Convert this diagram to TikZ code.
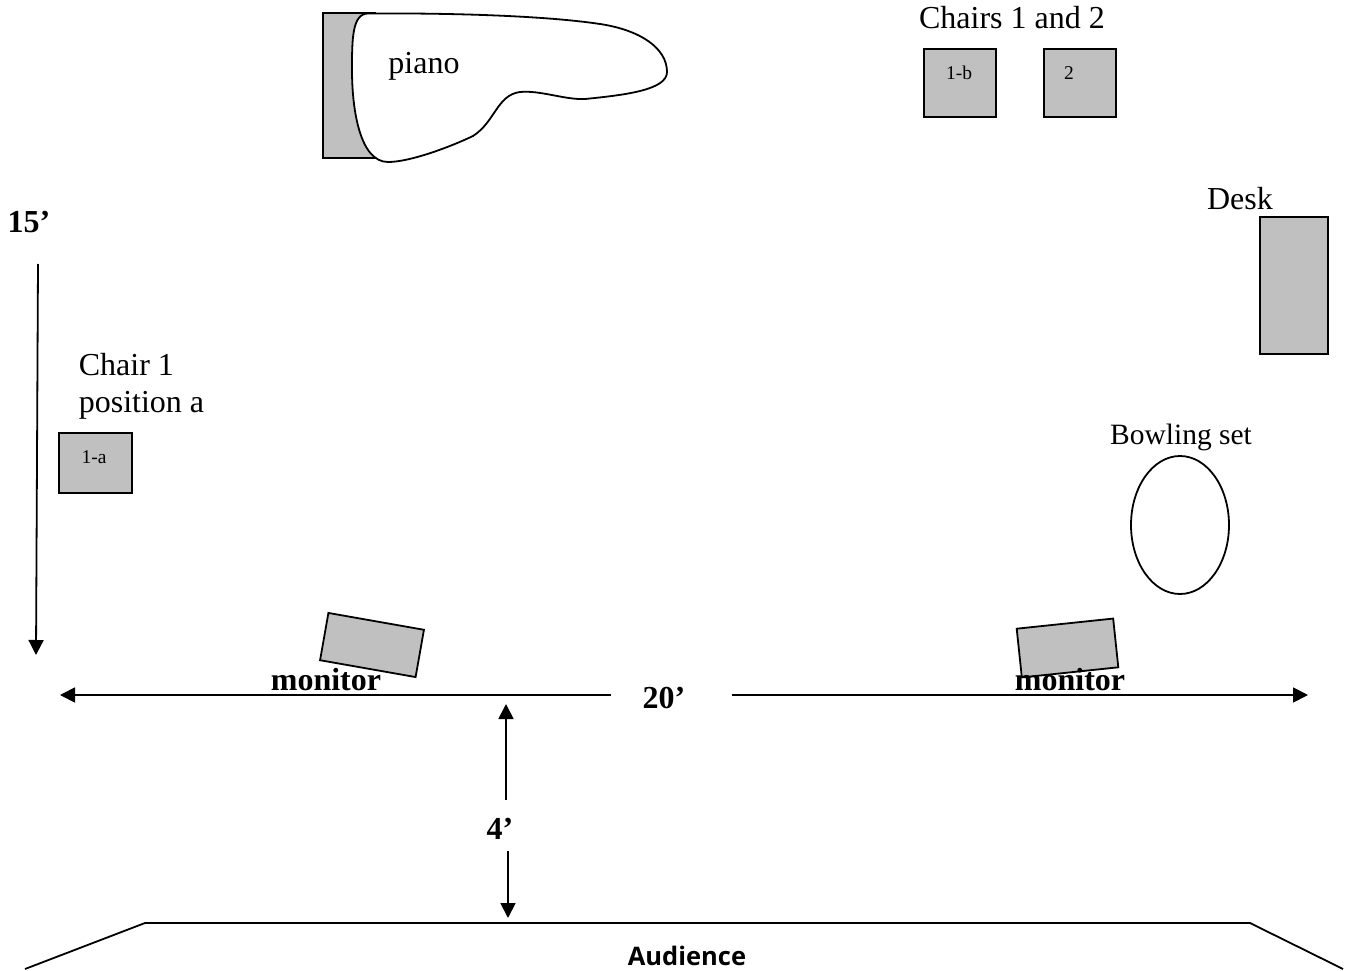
\documentclass[tikz,border=0pt]{standalone}
\usepackage{fontspec}
\setmainfont{Liberation Serif}
\newfontfamily\audfont{Open Sans}
\usetikzlibrary{arrows.meta, shapes.geometric}
\definecolor{boxgray}{RGB}{192,192,192}
\tikzset{
  every node/.style={inner sep=0pt, outer sep=0pt},
  box/.style={draw, fill=boxgray, line width=1.8pt},
  lab/.style={font=\fontsize{32}{37}\selectfont, align=left},
  dim/.style={font=\fontsize{32}{37}\selectfont\bfseries},
  tag/.style={font=\fontsize{19.5}{22}\selectfont},
  dimline/.style={line width=1.8pt, -{Triangle[length=15pt, width=15pt]}}
}
\begin{document}
\begin{tikzpicture}[x=1pt, y=-1pt]
\useasboundingbox (0,0) rectangle (1355,971);

% piano
\node[box, minimum width=52pt, minimum height=145pt] (bench) at (349,85.5) {};
\draw[line width=1.8pt, fill=white] (368,13.5) .. controls (440,13) and (540,15) .. (600,24)
  .. controls (640,30) and (667,48) .. (667,72) .. controls (667,90) and (625,95) .. (585,99)
  .. controls (565,100) and (540,90) .. (520,92) .. controls (497,95) and (495,122) .. (473,136)
  .. controls (450,147) and (410,162) .. (388,162) .. controls (360,162) and (352,110) .. (352,70)
  .. controls (352,40) and (352,13.5) .. (368,13.5) -- cycle;
\node[lab] (piano) at (424,66) {piano};

% chairs
\node[lab] (chairstop) at (1012,18) {Chairs 1 and 2};
\node[box, minimum width=72pt, minimum height=68pt] (chairb) at (960,83) {};
\node[box, minimum width=72pt, minimum height=68pt] (chairtwo) at (1080,83) {};
\node[tag] (tagb) at (959,73) {1-b};
\node[tag] (tagtwo) at (1069,73) {2};
\node[lab] (chairleft) at (141.5,386) {Chair 1\\position a};
\node[box, minimum width=73pt, minimum height=60pt] (chaira) at (95.5,463) {};
\node[tag] (taga) at (94,457) {1-a};

% desk and bowling
\node[lab] (desklab) at (1240,199) {Desk};
\node[box, minimum width=68pt, minimum height=137pt] (desk) at (1294,285.5) {};
\node[font=\fontsize{29.5}{34}\selectfont] (bowllab) at (1181,437) {Bowling set};
\node[draw, ellipse, line width=1.8pt, minimum width=98pt, minimum height=138pt] (bowl) at (1180,525) {};

% monitors
\node[box, minimum width=97pt, minimum height=48pt, rotate=-10] (monl) at (372,645) {};
\node[box, minimum width=97pt, minimum height=49pt, rotate=6] (monr) at (1067.5,648) {};
\node[dim] (monltext) at (326,680) {monitor};
\node[dim] (monrtext) at (1070,680) {monitor};

% dimensions
\node[dim] (fifteen) at (29,222) {15’};
\node[dim] (twenty) at (664,698) {20’};
\node[dim] (four) at (500,829) {4’};
\coordinate (fifteentop) at (38,264);
\coordinate (fifteenend) at (36,655);
\coordinate (twentyl) at (611,695);
\coordinate (twentyr) at (732,695);
\coordinate (leftend) at (60,695);
\coordinate (rightend) at (1308,695);
\coordinate (fourtop) at (506,800);
\coordinate (fourtip) at (506,704);
\coordinate (fourlow) at (508,851);
\coordinate (fourend) at (508,918);
\draw[dimline] (fifteentop)--(fifteenend);
\draw[dimline] (twentyl)--(leftend);
\draw[dimline] (twentyr)--(rightend);
\draw[dimline] (fourtop)--(fourtip);
\draw[dimline] (fourlow)--(fourend);

% audience
\coordinate (stagea) at (25,969);
\coordinate (stageb) at (145,923);
\coordinate (stagec) at (1250,923);
\coordinate (staged) at (1343,969);
\draw[line width=1.8pt] (stagea)--(stageb)--(stagec)--(staged);
\node[font=\audfont\fontsize{25.5}{30}\selectfont\bfseries] (audience) at (687,956) {Audience};
\end{tikzpicture}
\end{document}
